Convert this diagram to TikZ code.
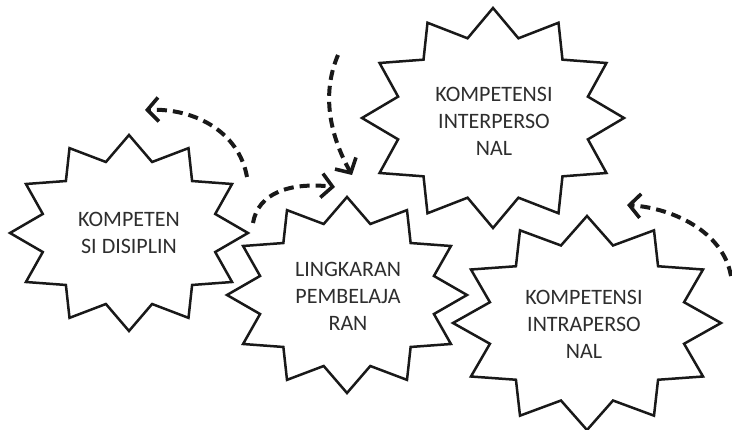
\documentclass[tikz,border=0pt]{standalone}
\usepackage{fontspec}
\setmainfont{Carlito}
\usetikzlibrary{calc,arrows.meta}

\tikzset{
  burst/.style={draw=black!90, fill=white, line width=2.5pt, line join=miter},
  bursttext/.style={text=black!82, font=\fontsize{22}{27}\selectfont, align=center, inner sep=0pt},
  flow/.style={draw=black!90, line width=4pt, dash pattern=on 10pt off 6pt,
    -{Straight Barb[length=11pt,width=24pt,line width=3.6pt]}}
}

% twelve-pointed starburst around a named centre, radii #2 (x) and #3 (y)
\newcommand\burstat[3]{%
  \pgfmathsetmacro\bix{0.75*#2}\pgfmathsetmacro\biy{0.75*#3}%
  \filldraw[burst] ($(#1)+(90:{#2} and {#3})$)
    \foreach \a in {90,120,...,420}{
      -- ($(#1)+({\a+15}:{\bix} and {\biy})$)
      -- ($(#1)+({\a+30}:{#2} and {#3})$) } -- cycle;%
}

\begin{document}
\begin{tikzpicture}[x=1pt,y=-1pt]
  \fill[white] (0,0) rectangle (732,430);
  \useasboundingbox (0,0) rectangle (732,430);

  % starburst centres
  \coordinate (c1) at (129,233);
  \coordinate (c2) at (347,295);
  \coordinate (c3) at (493,118);
  \coordinate (c4) at (587,323);

  \burstat{c1}{119}{98}
  \node[bursttext] (disiplin) at (c1) {KOMPETEN\\SI DISIPLIN};

  \burstat{c2}{120}{98}
  \node[bursttext] (lingkaran) at ($(c2)+(1,1)$) {LINGKARAN\\PEMBELAJA\\RAN};

  \burstat{c3}{131}{110}
  \node[bursttext] (inter) at ($(c3)+(1,3)$) {KOMPETENSI\\INTERPERSO\\NAL};

  \burstat{c4}{134}{107}
  \node[bursttext] (intra) at ($(c4)+(-3,1)$) {KOMPETENSI\\INTRAPERSO\\NAL};

  % dashed curved arrows
  \coordinate (a1s) at (247,177);
  \coordinate (a1e) at (145,110);
  \coordinate (a2s) at (338,55);
  \coordinate (a2e) at (352,175);
  \coordinate (a3s) at (253,223);
  \coordinate (a3e) at (335,187);
  \coordinate (a4s) at (731,276);
  \coordinate (a4e) at (627,205);

  \draw[flow] (a1s) .. controls +(-8,-45) and +(50,-2) .. (a1e);
  \draw[flow] (a2s) .. controls +(-15,35) and +(-25,-45) .. (a2e);
  \draw[flow] (a3s) .. controls +(5,-30) and +(-45,-5) .. (a3e);
  \draw[flow] (a4s) .. controls +(-8,-45) and +(45,3) .. (a4e);
\end{tikzpicture}
\end{document}
